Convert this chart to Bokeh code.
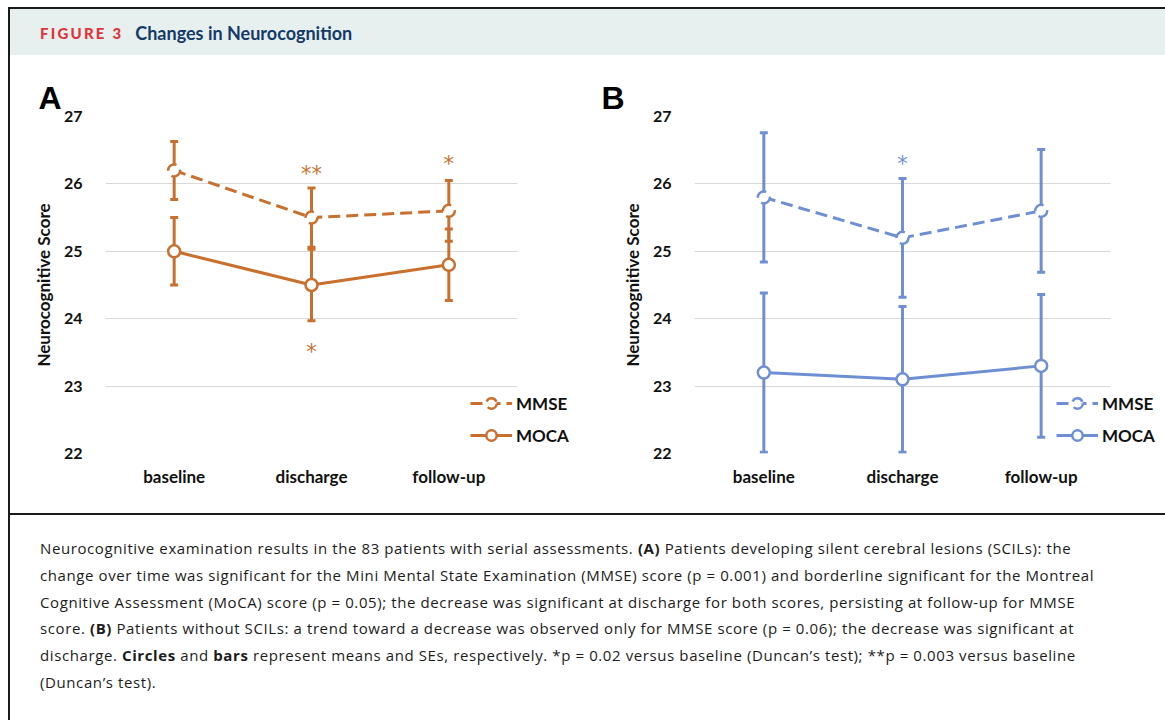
from bokeh.plotting import figure
from bokeh.models import (Range1d, ColumnDataSource, Whisker, TeeHead, Title,
                          Legend, LegendItem, FixedTicker, Div, Grid)
from bokeh.layouts import row, column
from bokeh.core.properties import value
from bokeh.embed import file_html
from bokeh.resources import INLINE

# ---------------- data ----------------
categories = ["baseline", "discharge", "follow-up"]
yticks = [22, 23, 24, 25, 26, 27]

a_mmse_mean = [26.2, 25.5, 25.6]
a_mmse_se = [0.43, 0.44, 0.45]
a_moca_mean = [25.0, 24.5, 24.8]
a_moca_se = [0.50, 0.53, 0.53]

b_mmse_mean = [25.8, 25.2, 25.6]
b_mmse_se = [0.96, 0.88, 0.91]
b_moca_mean = [23.2, 23.1, 23.3]
b_moca_se = [1.18, 1.08, 1.06]

a_star_text = ["**", "*", "*"]
a_star_x = ["discharge", "follow-up", "discharge"]
a_star_y = [26.2, 26.35, 23.56]

b_star_text = ["*"]
b_star_x = ["discharge"]
b_star_y = [26.36]

series_labels = ["MMSE", "MOCA"]

caption_lines = [
    "Neurocognitive examination results in the 83 patients with serial assessments. <b>(A)</b> Patients developing silent cerebral lesions (SCILs): the",
    "change over time was significant for the Mini Mental State Examination (MMSE) score (p = 0.001) and borderline significant for the Montreal",
    "Cognitive Assessment (MoCA) score (p = 0.05); the decrease was significant at discharge for both scores, persisting at follow-up for MMSE",
    "score. <b>(B)</b> Patients without SCILs: a trend toward a decrease was observed only for MMSE score (p = 0.06); the decrease was significant at",
    "discharge. <b>Circles</b> and <b>bars</b> represent means and SEs, respectively. *p = 0.02 versus baseline (Duncan\u2019s test); **p = 0.003 versus baseline",
    "(Duncan\u2019s test).",
]

ORANGE = "#c9702e"
BLUE = "#6f8fd5"
FONT = "Lato"
ROW_H = 458
TOTAL_W = 1157

ncat = len(categories)
xpos = [i + 0.5 for i in range(ncat)]          # category centres on the axis scale
xpos_of = dict(zip(categories, xpos))


def make_panel(letter, color, mmse_mean, mmse_se, moca_mean, moca_se,
               star_text, star_x, star_y, width, left, cat_w, letter_dx, legend_dx):
    # frame runs to the figure's right edge so the legend is not clipped;
    # the categories occupy cat_w pixels of it
    x_end = ncat * (width - left) / cat_w
    p = figure(width=width, height=ROW_H, x_range=Range1d(0, x_end),
               y_range=Range1d(22, 27), output_backend="svg", toolbar_location=None,
               title=None, min_border_left=left, min_border_right=0,
               min_border_top=61, min_border_bottom=ROW_H - 61 - 337)
    p.outline_line_color = None
    p.background_fill_color = "white"
    p.border_fill_color = "white"
    p.xgrid.grid_line_color = None

    p.yaxis.ticker = FixedTicker(ticks=yticks)
    if "cross_bounds" in Grid.properties():
        p.ygrid.grid_line_color = "#d9d9d9"
        p.ygrid.grid_line_width = 1.2
        p.ygrid.cross_bounds = (0, ncat)
    else:
        p.ygrid.grid_line_color = None
        p.segment(x0=[0] * len(yticks), x1=[ncat] * len(yticks), y0=yticks, y1=yticks,
                  line_color="#d9d9d9", line_width=1.2, level="underlay")

    p.xaxis.ticker = FixedTicker(ticks=xpos)
    p.xaxis.major_label_overrides = {x: c for x, c in zip(xpos, categories)}
    for ax in (p.xaxis[0], p.yaxis[0]):
        ax.axis_line_color = None
        ax.major_tick_line_color = None
        ax.minor_tick_line_color = None
        ax.major_label_text_font = FONT
        ax.major_label_text_font_style = "bold"
        ax.major_label_text_color = "#111111"
    p.xaxis.major_label_text_font_size = "17px"
    p.xaxis.major_label_standoff = 6
    p.yaxis.major_label_text_font_size = "16px"
    p.yaxis.major_label_standoff = 17
    p.yaxis.axis_label = "Neurocognitive Score"
    p.yaxis.axis_label_text_font = FONT
    p.yaxis.axis_label_text_font_style = "bold"
    p.yaxis.axis_label_text_font_size = "17px"
    p.yaxis.axis_label_text_color = "#111111"
    p.yaxis.axis_label_standoff = 7

    for mean, se in ((mmse_mean, mmse_se), (moca_mean, moca_se)):
        src = ColumnDataSource(dict(x=xpos,
                                    upper=[m + s for m, s in zip(mean, se)],
                                    lower=[m - s for m, s in zip(mean, se)]))
        w = Whisker(base="x", upper="upper", lower="lower", source=src,
                    line_color=color, line_width=3,
                    upper_head=TeeHead(size=8, line_color=color, line_width=3),
                    lower_head=TeeHead(size=8, line_color=color, line_width=3))
        p.add_layout(w)

    l1 = p.line(xpos, mmse_mean, line_color=color, line_width=3, line_dash="12 6")
    l2 = p.line(xpos, moca_mean, line_color=color, line_width=3)
    s1 = p.scatter(xpos, mmse_mean, size=12, fill_color="white", line_color=color,
                   line_width=2.5, line_dash="12 6")
    s2 = p.scatter(xpos, moca_mean, size=12, fill_color="white", line_color=color,
                   line_width=2.5)

    p.text(x=[xpos_of[c] for c in star_x], y=star_y, text=star_text, text_color=color,
           text_font=value("DejaVu Sans"), text_font_size="21px", text_align="center",
           text_baseline="middle", y_offset=4)

    legend = Legend(items=[LegendItem(label=series_labels[0], renderers=[l1, s1]),
                           LegendItem(label=series_labels[1], renderers=[l2, s2])],
                    location=(legend_dx, 5), border_line_color=None,
                    background_fill_alpha=0, padding=0, margin=0, spacing=6,
                    glyph_width=42, glyph_height=26, label_height=26, label_standoff=4,
                    label_text_font=FONT, label_text_font_style="bold",
                    label_text_font_size="17px", label_text_color="#111111")
    p.add_layout(legend)

    p.add_layout(Title(text=letter, align="left", offset=letter_dx, standoff=2,
                       text_font="Liberation Sans", text_font_style="bold",
                       text_font_size="32px", text_color="#000000"), "above")
    return p


pA = make_panel("A", ORANGE, a_mmse_mean, a_mmse_se, a_moca_mean, a_moca_se,
                a_star_text, a_star_x, a_star_y, width=580, left=95, cat_w=412,
                letter_dx=-67, legend_dx=365)
pB = make_panel("B", BLUE, b_mmse_mean, b_mmse_se, b_moca_mean, b_moca_se,
                b_star_text, b_star_x, b_star_y, width=575, left=104, cat_w=416,
                letter_dx=-93, legend_dx=362)

header_html = (
    '<div style="box-sizing:border-box;width:%dpx;height:48px;border-top:2px solid #1a1a1a;'
    'border-left:2px solid #1a1a1a;background:#e7f0ef;display:flex;align-items:center;'
    'padding:4px 0 0 30px;">'
    '<span style="font-family:Lato;font-weight:900;font-size:15px;letter-spacing:2.2px;'
    'color:#e2343b;">FIGURE 3</span>'
    '<span style="font-family:Lato;font-weight:700;font-size:18px;color:#133a68;'
    'margin-left:12px;">Changes in Neurocognition</span></div>' % TOTAL_W
)
header = Div(text=header_html, width=TOTAL_W, height=48, margin=0)

border = Div(text='<div style="width:2px;height:%dpx;background:#1a1a1a;"></div>' % ROW_H,
             width=2, height=ROW_H, margin=0)

caption_html = (
    '<div style="box-sizing:border-box;width:%dpx;height:207px;border-top:2px solid #1a1a1a;'
    'border-left:2px solid #1a1a1a;background:white;padding:20px 0 0 30px;'
    'font-family:\'Open Sans\';font-size:15px;letter-spacing:0.6px;line-height:26.8px;'
    'color:#1c1c1c;white-space:nowrap;">' % TOTAL_W
    + "<br>".join(caption_lines) + '</div>'
)
caption = Div(text=caption_html, width=TOTAL_W, height=207, margin=0)

layout = column(header, row(border, pA, pB, spacing=0), caption, spacing=0,
                margin=(7, 0, 0, 8))

open("out.html", "w").write(file_html(layout, INLINE))
